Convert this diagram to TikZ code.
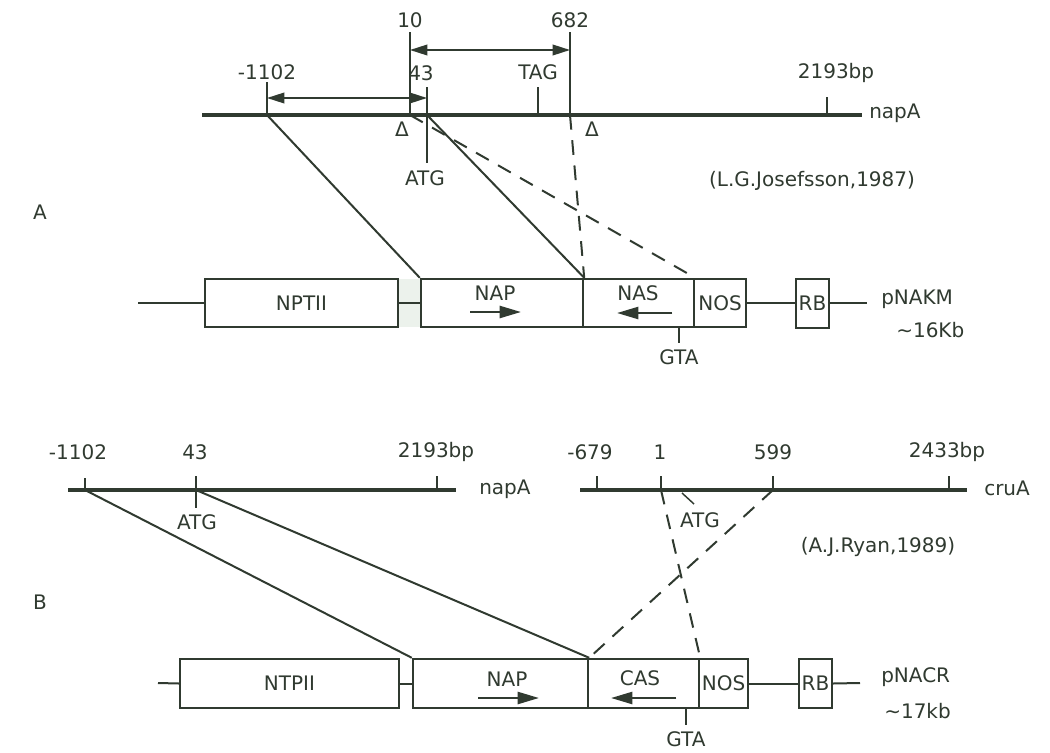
\documentclass[tikz,border=0pt]{standalone}
\usepackage{fontspec}
\setmainfont{DejaVu Sans}
\usetikzlibrary{arrows.meta, positioning, fit, calc}
\definecolor{inkcolor}{RGB}{48,58,48}
\definecolor{gapcolor}{RGB}{236,242,236}
\tikzset{
  dna/.style      = {draw=inkcolor, line width=3.2pt},
  tick/.style     = {draw=inkcolor, line width=1.1pt},
  link/.style     = {draw=inkcolor, line width=1.5pt},
  dlink/.style    = {link, dash pattern=on 11pt off 8pt},
  gbox/.style     = {draw=inkcolor, line width=1.8pt, inner sep=0pt, fill=white},
  lbl/.style      = {text=inkcolor, font=\fontsize{15}{17}\selectfont, inner sep=0pt},
  dimarrow/.style = {{Triangle[length=13pt, width=8pt]}-{Triangle[length=13pt, width=8pt]},
                     draw=inkcolor, fill=inkcolor, line width=1.2pt},
  dirarrow/.style = {-{Triangle[length=16pt, width=9pt]}, draw=inkcolor, fill=inkcolor,
                     line width=1.8pt},
}

\begin{document}
\begin{tikzpicture}[x=0.75pt, y=-0.75pt]
  \useasboundingbox (0,0) rectangle (1050,753);

  % ---------------- panel A ----------------
  \node[lbl] (panA) at (40,212) {A};
  \coordinate (aL) at (202,115);
  \coordinate (aR) at (862,115);
  \draw[dna] (aL) -- (aR);
  \node[lbl, anchor=west] (napAa) at (869,113) {napA};
  % ticks on napA
  \foreach \n/\x/\t in {am1102/267/82, ap10/410/32, ap682/570/32, atag/538/87, ap2193/827/97} {
    \draw[tick] (\x,115) coordinate (\n) -- (\x,\t) coordinate (\n top);
  }
  \draw[tick] (427,87) coordinate (ap43 top) -- (427,163) coordinate (atg bot);
  \coordinate (ap43) at (427,115);
  \node[lbl] (lm1102) at (267,72) {-1102};
  \node[lbl] (l10)    at (410,20) {10};
  \node[lbl] (l682)   at (570,20) {682};
  \node[lbl] (l43)    at (421,73) {43};
  \node[lbl] (ltag)   at (538,72) {TAG};
  \node[lbl] (l2193)  at (836,73) {2193bp};
  \node[lbl] (latg)   at (425,178) {ATG};
  \node[lbl, font=\fontsize{15}{17}\selectfont] (dl1) at (402,129) {Δ};
  \node[lbl, font=\fontsize{15}{17}\selectfont] (dl2) at (592,129) {Δ};
  \draw[dimarrow] (410,50) -- (570,50);
  \draw[dimarrow] (267,98) -- (427,98);
  \node[lbl] (josef) at (812,181) {(L.G.Josefsson,1987)};

  % plasmid pNAKM
  \fill[gapcolor] (398,279) rectangle (421,327);
  \node[gbox, fit={(205,279) (398,327)}] (nptA) {};
  \node[gbox, fit={(421,279) (583,327)}] (napbA) {};
  \node[gbox, fit={(583,279) (694,327)}] (nasbA) {};
  \node[gbox, fit={(694,279) (746,327)}] (nosA) {};
  \node[gbox, fit={(796,279) (829,328)}] (rbA) {};
  \node[lbl] at (nptA) {NPTII};
  \node[lbl] at (nosA) {NOS};
  \node[lbl] at (rbA) {RB};
  \coordinate (aleft) at (138,303);
  \coordinate (aright) at (867,303);
  \draw[link] (aleft) -- (nptA.west);
  \draw[link] (nptA.east) -- (napbA.west);
  \draw[link] (nosA.east) -- (nosA.east -| rbA.west);
  \draw[link] (rbA.east |- aright) -- (aright);
  \node[lbl] (napA lbl) at (495,293) {NAP};
  \draw[dirarrow] (470,312) -- (521,312);
  \node[lbl] (nasA lbl) at (638,293) {NAS};
  \draw[dirarrow] (672,313) -- (617,313);
  \draw[tick] (679,327) -- (679,343) coordinate (gtaA);
  \node[lbl, below=5pt of gtaA] (gtaA lbl) {GTA};
  \node[lbl, anchor=west] (pnakm) at (881,299) {pNAKM};
  \node[lbl, anchor=west] (kbA) at (896,330) {\textasciitilde16Kb};

  % connectors A
  \draw[link] (am1102) -- (napbA.north west);
  \draw[link] (ap43) -- (napbA.north east);
  \draw[dlink] (ap10) -- (nasbA.north east);
  \draw[dlink] (ap682) -- (napbA.north east);

  % ---------------- panel B ----------------
  \node[lbl] (panB) at (40,602) {B};
  \draw[dna] (68,490) coordinate (bL) -- (456,490) coordinate (bR);
  \draw[dna] (580,490) coordinate (cL) -- (967,490) coordinate (cR);
  \node[lbl, anchor=west] (napAb) at (479,489) {napA};
  \node[lbl, anchor=west] (cruA) at (984,488) {cruA};
  \foreach \n/\x/\t in {bm1102/85/478, bp2193/437/476, cm679/597/476, cp1/661/476, cp599/773/476, cp2433/949/476} {
    \draw[tick] (\x,490) coordinate (\n) -- (\x,\t);
  }
  \draw[tick] (196,476) -- (196,508);
  \coordinate (bp43) at (196,490);
  \foreach \x/\txt in {78/-1102, 195/43, 436/2193bp, 590/-679, 660/1, 773/599, 947/2433bp} {
    \node[lbl] at (\x,452) {\txt};
  }
  \node[lbl] (latgB) at (197,522) {ATG};
  \draw[tick] (682,493) -- (694,504);
  \node[lbl] (latgC) at (700,520) {ATG};
  \node[lbl] (ryan) at (878,547) {(A.J.Ryan,1989)};

  % plasmid pNACR
  \node[gbox, fit={(180,659) (399,708)}] (ntpB) {};
  \node[gbox, fit={(413,659) (588,708)}] (napbB) {};
  \node[gbox, fit={(588,659) (699,708)}] (casbB) {};
  \node[gbox, fit={(699,659) (748,708)}] (nosB) {};
  \node[gbox, fit={(799,659) (832,708)}] (rbB) {};
  \node[lbl] at (ntpB) {NTPII};
  \node[lbl] at (nosB) {NOS};
  \node[lbl] at (rbB) {RB};
  \coordinate (bleft) at (158,683);
  \coordinate (bright) at (860,683);
  \draw[link] (bleft) -- (ntpB.west);
  \draw[link] (ntpB.east) -- (napbB.west);
  \draw[link] (nosB.east) -- (rbB.west);
  \draw[link] (rbB.east) -- (bright);
  \node[lbl] (napB lbl) at (507,679) {NAP};
  \draw[dirarrow] (478,698) -- (539,698);
  \node[lbl] (casB lbl) at (640,678) {CAS};
  \draw[dirarrow] (676,698) -- (611,698);
  \draw[tick] (686,708) -- (686,725) coordinate (gtaB);
  \node[lbl, below=5pt of gtaB] (gtaB lbl) {GTA};
  \node[lbl, anchor=west] (pnacr) at (881,677) {pNACR};
  \node[lbl, anchor=west] (kbB) at (884,711) {\textasciitilde17kb};

  % connectors B
  \draw[link] (bm1102) -- (napbB.north west);
  \draw[link] (bp43) -- (napbB.north east);
  \draw[dlink] (cp599) -- (napbB.north east);
  \draw[dlink] (cp1) -- (casbB.north east);
\end{tikzpicture}
\end{document}
